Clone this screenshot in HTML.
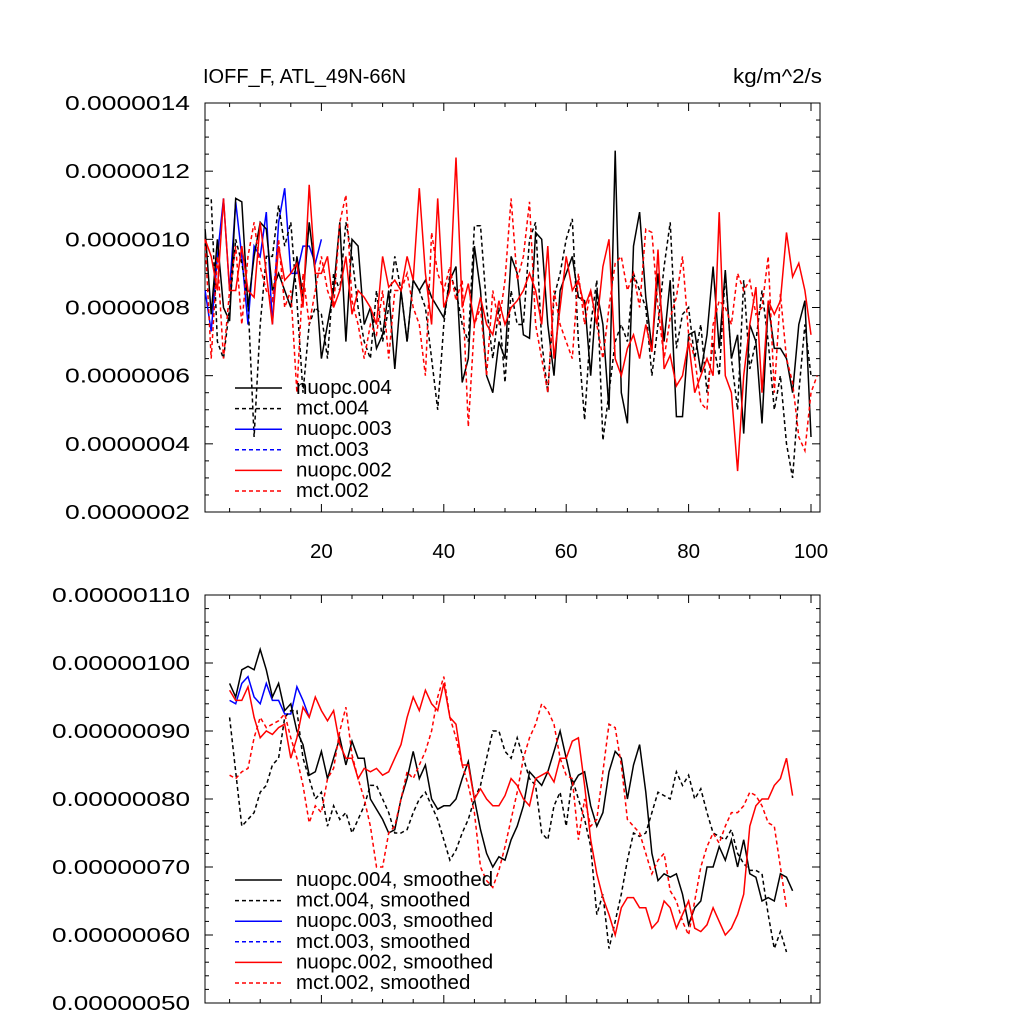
<!DOCTYPE html>
<html><head><meta charset="utf-8"><style>
html,body{margin:0;padding:0;background:#fff;}
svg{display:block;font-family:"Liberation Sans",Arial,sans-serif;}
</style></head><body>
<svg id="chart" width="1024" height="1024" viewBox="0 0 1024 1024"></svg>
<script>
// ---- data (values in units of 1e-7 kg/m^2/s) ----
const topXStart = 1;
const top_nuopc004 = [10.3,7.8,10,8,7.6,11.2,11.1,8,9.5,10.5,10.3,8.5,9,8.5,8,9.5,8.3,10.5,9,6.5,7.5,8.5,10.5,7,10,9.8,7.5,8,6.8,7.2,8.5,6.2,8.5,7,8.8,8.5,8.8,8.3,8,7.7,8.8,9.2,5.8,6.5,9.8,8.5,6,5.5,7,6.5,9.5,9,7.2,7.1,10.2,10,7.5,6,8.5,9,9.5,8.3,8.2,6,8.5,7.5,5,12.6,5.5,4.6,9.8,10.8,8.3,6.8,9,7,8.8,4.8,4.8,7.2,7.3,6.1,7.2,9.2,6.8,9.1,6.5,7.2,4.3,7.5,7,4.6,8.1,6.8,6.8,6.5,5.5,7.5,8.2,4.2];
const top_mct004 = [11.2,11.2,7,6.5,8,10,9.3,8.2,4.2,7.5,9.5,9.5,11,9.8,10.5,8.2,5.5,7.5,8,7.8,6.5,9,8.5,10.5,9.5,8,7,6.5,8.5,7,8,9.5,8.5,7,8.8,8.5,8,6.5,5,7.5,9,8.5,7.5,7,10.4,10.4,8,6.5,8,5.8,8.5,7.5,7.5,10,10.5,7,5.5,8.3,9,10,10.6,7,4.7,7.5,8.8,4.1,5.5,7,7.5,7,9,8.5,8,6,7.5,9.2,10.5,6.8,7.8,8,6.5,7.5,5.5,7,6,9,6.5,5,8.8,6.2,7,8.5,7,5,6,4,3,5.5,7.5,6];
const top_nuopc003 = [8.5,7.3,9.5,11.2,8.5,11.1,9.5,7.5,9.8,9.5,10.8,7.5,10.5,11.5,9,9,9.8,9.8,9.3,10];
const top_nuopc002 = [10,9.5,8.5,11.2,8.5,8.5,9.8,8.5,8.3,10.5,9,7.5,9.8,8.8,9,9.3,8,11.6,9,9,9.5,8,8.5,9.5,7.8,8.5,8.3,8,7.5,9.5,8.6,8.8,8.5,9.5,8.8,11.5,9,7.5,11.2,8,8.5,12.4,8,8.7,7.5,8.3,7.5,7.2,8.2,7.5,8,8.2,8.5,9,8.5,7.5,9.8,6.5,8,9.5,8.5,8.8,8,8.5,7.5,9.2,10,6.5,6,6.8,7.2,6.5,7.5,6.7,9.7,6.2,6.6,5.7,6,7,5.5,6,6.5,6,10.8,6,5.5,3.2,6,7.5,8.6,5.5,8.2,7.8,8.2,10.2,8.9,9.3,8.5,7.2];
const top_mct002 = [10,6.5,9.5,6.5,8.5,9.8,7.5,9.5,10.5,9.2,8.5,8.2,10,8,8.5,5.5,9,7.5,8.5,9.5,8.5,8,10.5,11.3,8.2,7.5,6.5,7.5,7.2,8.5,6.5,8.5,8.5,9,8,7.5,6,10.2,9,8.5,9.2,8.2,8.8,4.5,7.5,8,6,8.5,7.5,8.8,11.2,8.8,9.5,11.1,7.5,6.5,5.5,8.5,7.5,7,6.5,9,7.5,8.5,7.5,6.5,8,9.3,9.5,8.5,9,8,10.3,10.2,8,6.5,7.7,8.3,9.5,7.2,6.5,5.2,5,7.5,8.2,8,7.5,9,8.5,8.8,7.8,8,9.5,5.5,8.4,6.5,5.8,4.2,3.8,5.5,6];
const botXStart = 5;
const bot_nuopc004 = [9.7,9.5,9.9,9.95,9.9,10.2,9.9,9.5,9.7,9.3,9.4,9.0,8.8,8.35,8.4,8.7,8.3,8.6,8.9,8.5,8.85,8.6,8.6,8.0,7.85,7.7,7.5,7.55,8.0,8.3,8.7,8.3,8.5,8.0,7.85,7.9,7.9,8.0,8.3,8.55,8.0,7.55,7.2,7.0,7.15,7.1,7.4,7.6,7.9,8.4,8.3,8.2,8.4,8.7,9.0,8.6,8.2,8.35,8.4,7.9,7.6,7.8,8.4,8.7,8.6,8.0,8.5,8.8,8.1,7.2,6.8,6.9,6.85,6.9,6.6,6.15,6.4,6.5,7.0,7.0,7.3,7.1,7.4,7.0,7.4,6.9,6.85,6.5,6.55,6.5,6.9,6.85,6.65];
const bot_mct004 = [9.2,8.4,7.6,7.7,7.8,8.1,8.2,8.5,8.6,9.2,9.3,9.3,8.6,8.3,8.0,8.1,7.6,7.9,7.7,7.8,7.5,7.7,7.9,8.2,8.2,8.0,7.8,7.5,7.5,7.55,7.8,8.0,8.1,7.9,7.7,7.4,7.1,7.25,7.5,7.7,8.0,8.2,8.6,9.0,9.0,8.7,8.6,8.9,8.6,8.3,8.2,7.5,7.4,7.9,8.1,7.6,8.3,8.0,7.7,7.3,6.3,6.6,5.8,6.2,6.6,7.1,7.5,7.45,7.5,7.8,8.1,8.05,8.0,8.4,8.2,8.35,8.0,8.15,7.8,7.5,7.45,7.4,7.55,7.2,7.05,6.95,6.95,6.9,6.3,5.8,6.05,5.75];
const bot_nuopc003 = [9.45,9.4,9.7,9.8,9.5,9.4,9.7,9.45,9.45,9.25,9.25,9.65,9.45,9.2];
const bot_nuopc002 = [9.6,9.45,9.45,9.65,9.2,8.9,9.0,8.95,9.05,9.1,8.6,8.9,9.35,9.2,9.5,9.3,9.15,9.3,8.8,8.6,8.6,8.3,8.45,8.4,8.45,8.35,8.4,8.6,8.8,9.2,9.5,9.3,9.6,9.4,9.3,9.7,9.2,9.1,8.5,8.5,8.0,8.15,8.0,7.9,7.9,8.05,8.3,8.2,8.0,7.9,8.3,8.35,8.4,8.25,8.6,8.6,8.85,8.9,8.2,7.4,6.9,6.55,6.3,6.0,6.4,6.55,6.55,6.4,6.4,6.1,6.2,6.5,6.4,6.1,6.3,6.5,6.1,6.05,6.15,6.4,6.2,6.0,6.1,6.3,6.6,7.6,7.9,8.0,8.0,8.2,8.3,8.6,8.05];
const bot_mct002 = [8.35,8.3,8.4,8.45,8.9,9.2,9.05,9.1,9.15,9.25,8.9,8.6,8.2,7.65,7.9,7.8,8.3,8.45,9.0,9.35,8.65,8.3,8.0,7.6,7.0,7.0,7.5,7.6,8.0,8.4,8.3,8.5,8.7,9.0,9.5,9.8,9.2,8.9,8.5,8.2,7.8,7.0,6.8,6.7,6.95,7.3,7.7,8.1,8.6,8.9,9.1,9.4,9.3,9.1,8.6,8.35,8.3,7.4,8.0,7.6,7.7,8.4,9.1,9.05,8.5,7.7,7.6,7.5,7.2,6.9,7.1,7.2,6.65,6.5,6.2,6.0,6.5,7.0,7.3,7.5,7.35,7.6,7.8,7.8,7.9,8.1,8.05,7.9,7.65,7.6,7.0,6.4];
const topYTicks = [2,4,6,8,10,12,14];
const topYLabels = ["0.0000002","0.0000004","0.0000006","0.0000008","0.0000010","0.0000012","0.0000014"];
const botYTicks = [5,6,7,8,9,10,11];
const botYLabels = ["0.00000050","0.00000060","0.00000070","0.00000080","0.00000090","0.00000100","0.00000110"];
const xTicks = [20,40,60,80,100];
const xTickLabels = ["20","40","60","80","100"];
const topLegend = ["nuopc.004","mct.004","nuopc.003","mct.003","nuopc.002","mct.002"];
const botLegend = ["nuopc.004, smoothed","mct.004, smoothed","nuopc.003, smoothed","mct.003, smoothed","nuopc.002, smoothed","mct.002, smoothed"];

const NS="http://www.w3.org/2000/svg";
const svg=document.getElementById('chart');
function mk(tag,attrs,parent){const e=document.createElementNS(NS,tag);for(const k in attrs)e.setAttribute(k,attrs[k]);(parent||svg).appendChild(e);return e;}
const L=205,R=820;
const xs=v=>199+6.12*v;
const panels={top:{t:103,b:512,min:2,max:14},bot:{t:595,b:1003,min:5,max:11}};
function ys(p,v){return p.b-(v-p.min)/(p.max-p.min)*(p.b-p.t);}

function drawPanel(name,p,yT,yL,minorStep,labW){
  const g=mk('g',{});
  
  
  const f=mk('rect',{x:L,y:p.t,width:R-L,height:p.b-p.t,fill:'none',stroke:'#000','stroke-width':1},g);
  
  
  for(let v=p.min;v<=p.max+1e-9;v+=minorStep){
    const y=ys(p,v);const major=yT.some(t=>Math.abs(t-v)<1e-6);const len=major?8:4;
    mk('line',{x1:L,x2:L+len,y1:y,y2:y,stroke:'#000'},g);
    mk('line',{x1:R,x2:R-len,y1:y,y2:y,stroke:'#000'},g);
  }
  yT.forEach((t,i)=>{
    const tx=mk('text',{x:190-labW,y:ys(p,t)+7,'font-size':20.5,textLength:labW,lengthAdjust:'spacingAndGlyphs'},g);
    tx.textContent=yL[i];
    
    
  });
  for(let v=5;v<=100;v+=5){
    const x=xs(v);const major=v%20===0;const len=major?8:4;
    mk('line',{x1:x,x2:x,y1:p.b,y2:p.b-len,stroke:'#000'},g);
    mk('line',{x1:x,x2:x,y1:p.t,y2:p.t+len,stroke:'#000'},g);
  }
  return g;
}
drawPanel('top',panels.top,topYTicks,topYLabels,0.5,125);
drawPanel('bottom',panels.bot,botYTicks,botYLabels,0.2,138);
xTicks.forEach((t,i)=>{
  const tx=mk('text',{x:xs(t),y:558,'text-anchor':'middle','font-size':20.5});
  tx.textContent=xTickLabels[i];
  
  
});
const t1=mk('text',{x:203,y:83,'font-size':20});t1.textContent='IOFF_F, ATL_49N-66N';


const t2=mk('text',{x:733,y:83,'font-size':20,textLength:89,lengthAdjust:'spacingAndGlyphs'});t2.textContent='kg/m^2/s';



function series(p,data,start,color,dash,nm){
  const pts=data.map((v,i)=>xs(start+i).toFixed(1)+','+ys(p,v).toFixed(1)).join(' ');
  const pl=mk('polyline',{points:pts,fill:'none',stroke:color,'stroke-width':1.5,'stroke-dasharray':dash?'4,3':'none'});
  
  
}
series(panels.top,top_nuopc003,topXStart,'#0000ff',false,'series-nuopc003');
series(panels.top,top_mct004,topXStart,'#000',true,'series-mct004');
series(panels.top,top_nuopc004,topXStart,'#000',false,'series-nuopc004');
series(panels.top,top_mct002,topXStart,'#ff0000',true,'series-mct002');
series(panels.top,top_nuopc002,topXStart,'#ff0000',false,'series-nuopc002');
series(panels.bot,bot_nuopc003,botXStart,'#0000ff',false,'series-nuopc003-smoothed');
series(panels.bot,bot_mct004,botXStart,'#000',true,'series-mct004-smoothed');
series(panels.bot,bot_nuopc004,botXStart,'#000',false,'series-nuopc004-smoothed');
series(panels.bot,bot_mct002,botXStart,'#ff0000',true,'series-mct002-smoothed');
series(panels.bot,bot_nuopc002,botXStart,'#ff0000',false,'series-nuopc002-smoothed');

const legColors=['#000','#000','#0000ff','#0000ff','#ff0000','#ff0000'];
const legDash=[false,true,false,true,false,true];
function legend(labels,y0,nm){
  labels.forEach((lab,i)=>{
    const y=y0+i*20.6;
    const ln=mk('line',{x1:235,x2:282,y1:y,y2:y,stroke:legColors[i],'stroke-width':1.5,'stroke-dasharray':legDash[i]?'4,3':'none'});
    
    
    const tx=mk('text',{x:296,y:y+6,'font-size':20.5});tx.textContent=lab;
    
    
  });
}
legend(topLegend,388,'top-legend');
legend(botLegend,880,'bottom-legend');
</script>
</body></html>
